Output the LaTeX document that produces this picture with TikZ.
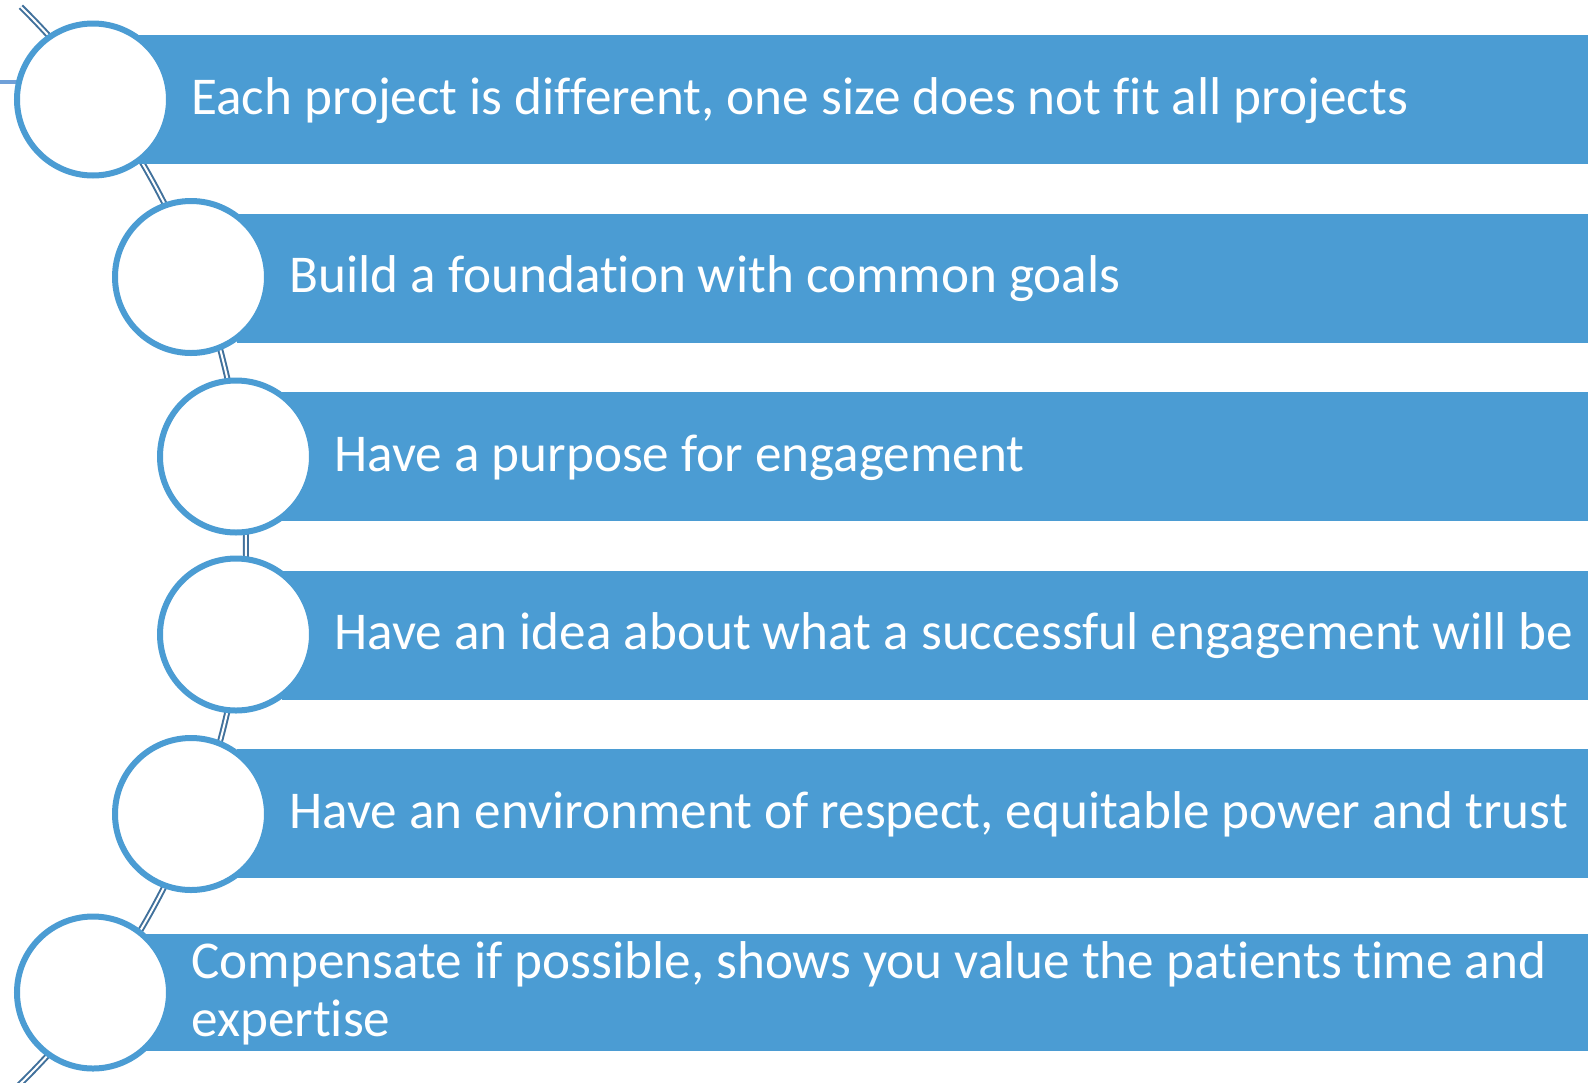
\documentclass[tikz,border=0pt]{standalone}
\usepackage{fontspec}
\setmainfont[Ligatures=NoCommon]{Carlito}
\definecolor{barblue}{HTML}{4B9CD3}
\definecolor{arcblue}{HTML}{41719C}
\definecolor{stubblue}{HTML}{6FA0D8}
\begin{document}
\begin{tikzpicture}[x=0.5pt,y=-0.5pt,
  bar/.style={fill=barblue},
  bubble/.style={circle, draw=barblue, fill=white, line width=3pt, minimum size=76pt, inner sep=0pt},
  itemtext/.style={anchor=base west, inner sep=0pt, text=white, font=\fontsize{26.6pt}{29pt}\selectfont},
  curve/.style={draw=arcblue, line width=1pt, double=white, double distance=1pt}]
\useasboundingbox (0,0) rectangle (1588,1082);
\begin{scope}
\clip (0,0) rectangle (1588,1082);
\draw[curve] (-510,545) ++(-45.4:756) arc[start angle=-45.4, end angle=47, radius=756];
\draw[stubblue, line width=2pt] (0,82) -- (25,82);
\end{scope}
% bars
\fill[bar] (138,35) rectangle (1588,164);
\fill[bar] (237,213.6) rectangle (1588,342.6);
\fill[bar] (282,392.2) rectangle (1588,521.2);
\fill[bar] (282,570.8) rectangle (1588,699.8);
\fill[bar] (237,749.4) rectangle (1588,878.4);
\fill[bar] (138,934) rectangle (1588,1051);
% circles
\node[bubble] (c1) at (93,99.5) {};
\node[bubble] (c2) at (191,277) {};
\node[bubble] (c3) at (236,456.5) {};
\node[bubble] (c4) at (236,634.5) {};
\node[bubble] (c5) at (191,814) {};
\node[bubble] (c6) at (93,992.5) {};
% texts
\node[itemtext] (t1) at (191,114) {Each project is different, one size does not fit all projects};
\node[itemtext] (t2) at (289,292.6) {Build a foundation with common goals};
\node[itemtext] (t3) at (334,471.2) {Have a purpose for engagement};
\node[itemtext] (t4) at (334,649.8) {Have an idea about what a successful engagement will be};
\node[itemtext] (t5) at (289,828.4) {Have an environment of respect, equitable power and trust};
\node[itemtext] (t6a) at (191,978) {Compensate if possible, shows you value the patients time and};
\node[itemtext] (t6b) at (191,1036.7) {expertise};
\end{tikzpicture}
\end{document}
